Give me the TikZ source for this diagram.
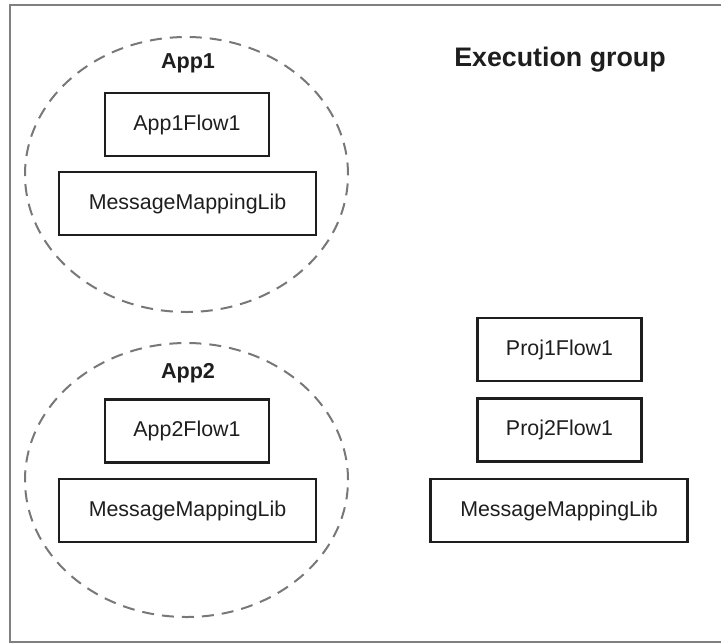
\documentclass[tikz,border=0pt]{standalone}
\usepackage{fontspec}
\setmainfont{Liberation Sans}
\usepackage{tikz}
\definecolor{framegray}{RGB}{128,128,128}
\definecolor{dashgray}{RGB}{120,120,120}
\definecolor{inkblack}{RGB}{30,30,30}
\tikzset{
  flowbox/.style={draw=inkblack, line width=1.2pt, minimum width=82pt, minimum height=31.5pt, inner sep=0pt, text=inkblack, font=\fontsize{10.7}{12}\selectfont},
  libbox/.style={flowbox, minimum width=128.5pt},
  applabel/.style={text=inkblack, font=\fontsize{10.8}{12}\selectfont\bfseries},
  appring/.style={draw=dashgray, line width=1pt, dash pattern=on 6pt off 4pt}
}
\begin{document}
\begin{tikzpicture}[x=0.5pt,y=-0.5pt]
\useasboundingbox (0,0) rectangle (721,643);
% outer frame
\draw[framegray, line width=1pt] (10,5) rectangle (728,641.5);
% dashed rings round the applications
\draw[appring] (186.5,174.5) ellipse [x radius=80.75pt, y radius=68.75pt];
\draw[appring] (186.5,480) ellipse [x radius=80.75pt, y radius=68.5pt];
% first application
\node[applabel] (app1) at (188,63) {App1};
\node[flowbox] (app1flow) at (187,124.5) {App1Flow1};
\node[libbox] (lib1) at (187.5,203.5) {MessageMappingLib};
% second application
\node[applabel] (app2) at (188,373) {App2};
\node[flowbox] (app2flow) at (187,431) {App2Flow1};
\node[libbox] (lib2) at (187.5,510.5) {MessageMappingLib};
% execution group contents
\node[text=inkblack, font=\fontsize{13.4}{15}\selectfont\bfseries] (group) at (560,60) {Execution group};
\node[flowbox] (proj1) at (559.5,349.5) {Proj1Flow1};
\node[flowbox] (proj2) at (559.5,430) {Proj2Flow1};
\node[libbox] (lib3) at (559,510.5) {MessageMappingLib};
\end{tikzpicture}
\end{document}
